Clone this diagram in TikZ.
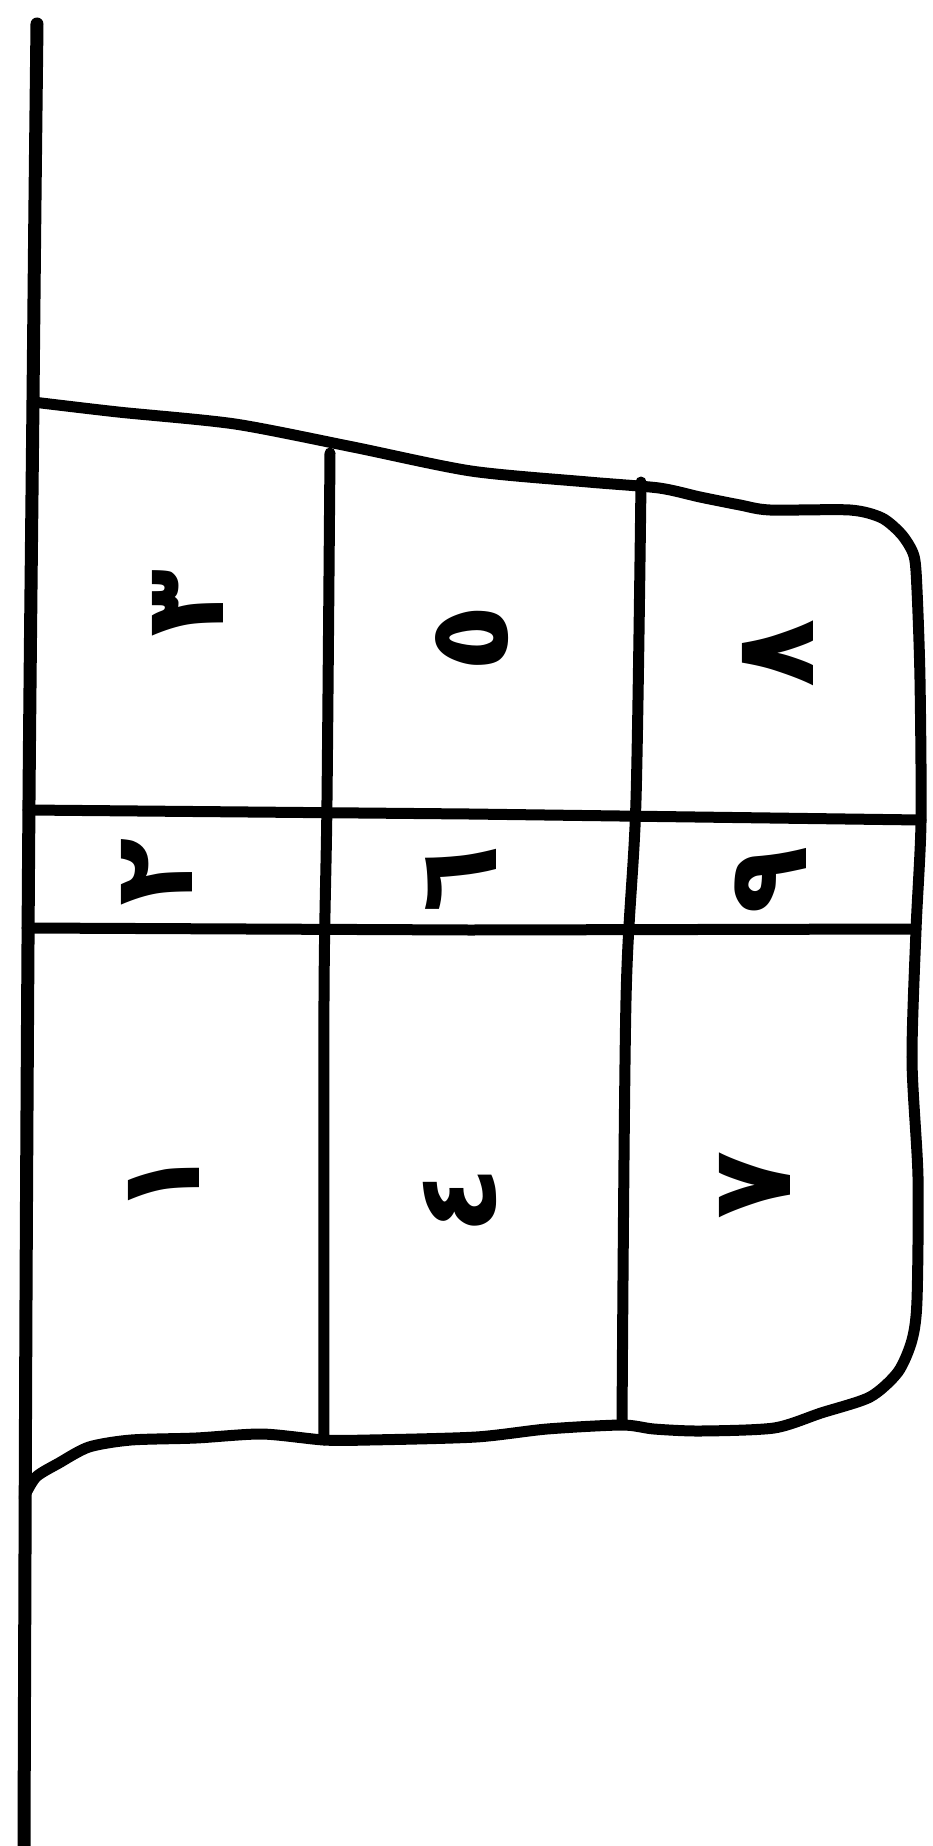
\documentclass[tikz,border=0pt]{standalone}
\usepackage{fontspec}
\newfontfamily\digitfont[Script=Arabic]{DejaVu Sans}
\begin{document}
\begin{tikzpicture}[x=1pt,y=-1pt,
  stroke/.style={line width=11pt,line cap=round,line join=round},
  wall/.style={line width=13pt,line cap=round},
  glyph/.style={font=\digitfont\bfseries\fontsize{112}{112}\selectfont,rotate=90,inner sep=0pt}]
\useasboundingbox (0,0) rectangle (932,1846);
% long left line
\draw[wall] plot[smooth] coordinates {(37,24) (35,200) (33,400) (29,800) (26,1300) (24,1846)};
% outer outline of the block
\draw[stroke] plot[smooth,tension=0.45] coordinates {
 (33,402) (118,412) (235,424) (353,447) (471,471) (588,482) (659,488) (700,497)
 (740,505) (770,510) (850,510) (882,518) (902,535) (914,556) (917,590) (920,680)
 (921,822) (916,930) (912,1060) (918,1177) (917,1300) (912,1340) (898,1372)
 (870,1397) (821,1413) (774,1428) (700,1431) (654,1429) (622,1425) (547,1429)
 (476,1437) (369,1440) (324,1440) (262,1434) (196,1438) (131,1440) (89,1447)
 (59,1463) (36,1477) (24,1497)};
% horizontal dividers
\draw[stroke] (28,810) -- (470,814) -- (921,820);
\draw[stroke] (27,928) -- (470,930) -- (916,929);
% vertical dividers
\draw[stroke] plot[smooth] coordinates {(330,453) (327,800) (324,1000) (324,1440)};
\draw[stroke] plot[smooth] coordinates {(641,482) (636,800) (626,1000) (622,1424)};
% labels
\node[glyph] (c3) at (188,603) {٣};
\node[glyph] (c5) at (472,638) {٥};
\node[glyph] (c8) at (778,653) {٨};
\node[glyph] (c2) at (157,872) {٢};
\node[glyph] (c6) at (461,879) {٦};
\node[glyph] (c9) at (771,880) {٩};
\node[glyph] (c1) at (164,1182) {١};
\node[glyph] (c4) at (460,1200) {٤};
\node[glyph] (c7) at (755,1185) {٧};
\end{tikzpicture}
\end{document}
